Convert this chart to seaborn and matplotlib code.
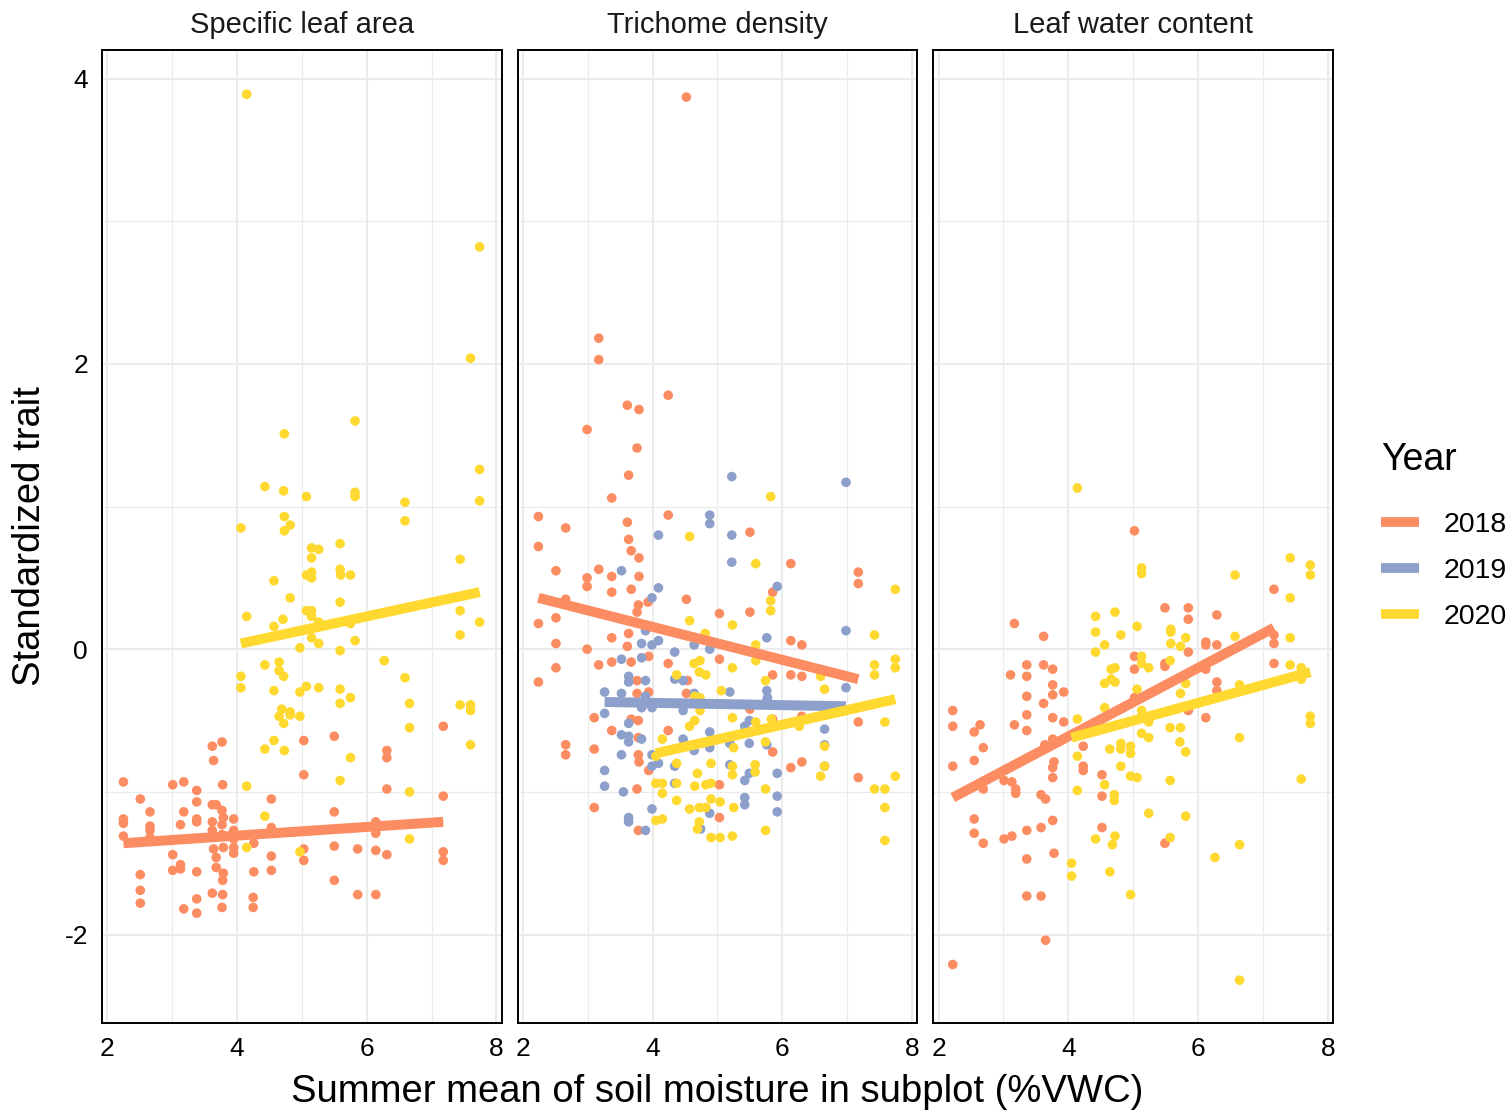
import pandas as pd
import numpy as np
import matplotlib
matplotlib.use("Agg")
import matplotlib.pyplot as plt
from matplotlib.lines import Line2D
import seaborn as sns

# values (soil moisture %VWC, standardized trait)
sla_2018_x = [7.18,5.50,5.03,3.62,3.77,3.64,6.31,6.31,5.03,2.25,3.01,3.18,3.78,3.38,6.31,7.18,2.51,4.53,3.38,3.62,
              3.68,2.66,3.18,3.77,3.79,5.50,2.25,2.25,2.66,2.66,3.38,3.38,3.13,3.62,3.95,3.77,4.53,6.14,6.14,2.25,
              2.66,3.62,3.77,3.95,3.95,3.79,3.95,3.95,4.26,3.64,5.50,5.86,5.03,5.03,6.14,6.31,7.18,7.18,3.01,4.53,
              3.68,3.68,3.13,3.13,3.01,3.38,2.51,3.79,3.78,4.26,4.53,5.50,2.51,2.51,3.62,3.78,3.38,4.25,4.25,3.18,
              3.38,3.77,5.86,6.14]
sla_2018_y = [-0.54,-0.61,-0.64,-0.68,-0.65,-0.78,-0.71,-0.76,-0.88,-0.93,-0.95,-0.93,-0.95,-0.99,-0.98,-1.03,-1.05,-1.05,-1.07,-1.09,
              -1.09,-1.14,-1.14,-1.13,-1.18,-1.14,-1.19,-1.22,-1.24,-1.27,-1.19,-1.21,-1.23,-1.21,-1.19,-1.23,-1.25,-1.21,-1.29,-1.31,
              -1.32,-1.27,-1.30,-1.27,-1.33,-1.39,-1.39,-1.43,-1.36,-1.40,-1.38,-1.40,-1.40,-1.48,-1.41,-1.44,-1.42,-1.48,-1.44,-1.45,
              -1.46,-1.53,-1.51,-1.54,-1.55,-1.56,-1.58,-1.57,-1.62,-1.56,-1.55,-1.62,-1.69,-1.78,-1.71,-1.72,-1.75,-1.74,-1.81,-1.82,
              -1.85,-1.81,-1.72,-1.72]

sla_2020_x = [4.15,7.74,7.60,
              5.82,4.73,7.74,4.43,4.72,5.07,5.82,5.82,6.59,7.74,4.06,4.73,4.82,4.73,6.59,5.15,5.26,5.59,5.15,7.44,
              5.59,5.15,5.07,5.15,5.60,5.75,4.57,4.82,5.59,7.44,5.07,5.15,5.15,4.15,4.71,5.26,4.57,5.75,7.74,7.44,
              5.82,5.15,5.26,4.97,5.59,6.27,4.43,4.65,4.65,4.72,4.06,6.59,4.06,4.57,4.97,5.07,5.26,5.59,5.75,
              4.69,4.82,4.65,4.82,4.72,4.97,5.59,6.66,7.44,7.60,7.60,6.66,7.60,4.43,4.57,4.73,5.75,5.59,4.15,6.66,
              4.43,4.15,4.97,6.66]
sla_2020_y = [3.89,2.82,2.04,
              1.60,1.51,1.26,1.14,1.11,1.07,1.10,1.07,1.03,1.04,0.85,0.93,0.87,0.83,0.90,0.71,0.70,0.74,0.64,0.63,
              0.56,0.54,0.52,0.50,0.52,0.52,0.48,0.36,0.33,0.27,0.27,0.27,0.23,0.23,0.21,0.19,0.16,0.18,0.19,0.10,
              0.06,0.08,0.04,0.01,-0.01,-0.08,-0.11,-0.09,-0.15,-0.19,-0.19,-0.20,-0.27,-0.29,-0.30,-0.26,-0.27,-0.28,-0.34,
              -0.42,-0.44,-0.47,-0.46,-0.52,-0.47,-0.38,-0.38,-0.39,-0.39,-0.43,-0.55,-0.67,-0.70,-0.64,-0.71,-0.76,-0.92,-0.96,-1.00,
              -1.17,-1.39,-1.42,-1.33]

tri_2018_x = [4.52,
              3.17,3.17,4.24,3.61,3.79,2.99,3.76,3.63,3.37,2.24,4.24,3.61,2.66,3.63,2.24,3.67,3.79,5.50,6.13,2.51,
              3.17,2.99,3.37,3.79,2.99,3.67,3.37,7.17,7.17,5.85,2.66,4.52,3.93,3.78,3.76,5.03,5.50,2.51,
              2.24,3.37,3.63,3.61,2.51,2.99,6.13,6.30,2.51,2.24,3.17,3.37,3.67,3.94,4.24,5.03,5.85,6.13,6.30,3.76,
              4.54,3.94,3.76,4.52,5.50,3.10,3.67,3.78,3.37,4.24,3.78,5.85,6.30,7.17,2.66,2.66,3.10,3.78,3.79,3.94,
              5.85,6.13,6.30,7.17,3.76,5.03,3.10,5.03,3.78]
tri_2018_y = [3.87,
              2.18,2.03,1.78,1.71,1.68,1.54,1.41,1.22,1.06,0.93,0.94,0.89,0.85,0.77,0.72,0.69,0.64,0.82,0.60,0.55,
              0.56,0.50,0.51,0.51,0.44,0.42,0.40,0.54,0.46,0.40,0.35,0.35,0.33,0.31,0.26,0.25,0.26,0.22,
              0.18,0.08,0.11,0.02,0.04,0.00,0.06,0.03,-0.13,-0.23,-0.11,-0.09,-0.09,-0.05,-0.10,-0.07,-0.18,-0.18,-0.19,-0.22,
              -0.22,-0.30,-0.31,-0.31,-0.42,-0.48,-0.49,-0.50,-0.57,-0.57,-0.62,-0.49,-0.47,-0.51,-0.67,-0.74,-0.70,-0.74,-0.79,-0.85,
              -0.72,-0.83,-0.79,-0.90,-0.98,-0.95,-1.11,-1.18,-1.27]

tri_2019_x = [5.22,6.98,4.88,4.88,4.09,5.22,5.22,3.52,5.92,4.09,3.99,
              6.98,5.76,3.83,3.99,4.09,4.34,4.88,3.52,3.83,3.63,3.63,3.89,4.34,4.47,3.26,3.52,3.89,4.64,5.19,5.76,
              5.76,6.98,3.83,3.99,4.47,3.26,3.63,3.52,3.63,3.63,3.83,4.47,4.88,5.42,5.49,5.49,5.19,5.76,4.64,4.88,
              6.65,6.65,6.65,3.52,3.99,3.99,4.09,4.34,5.19,3.26,5.49,5.42,5.92,3.26,3.55,4.34,5.42,5.42,5.92,5.92,
              3.99,4.88,3.63,3.63,3.89,4.74,5.77,3.89,4.64]
tri_2019_y = [1.21,1.17,0.94,0.88,0.80,0.80,0.61,0.55,0.44,0.43,0.36,
              0.13,0.08,0.04,0.03,0.06,-0.02,0.00,-0.07,-0.06,-0.19,-0.23,-0.22,-0.21,-0.22,-0.30,-0.31,-0.33,-0.31,-0.30,-0.29,
              -0.36,-0.27,-0.41,-0.41,-0.43,-0.45,-0.52,-0.60,-0.61,-0.65,-0.63,-0.63,-0.58,-0.54,-0.50,-0.66,-0.66,-0.67,-0.71,-0.69,
              -0.56,-0.67,-0.82,-0.74,-0.74,-0.82,-0.80,-0.82,-0.81,-0.85,-0.87,-0.92,-0.87,-0.96,-1.00,-0.94,-1.04,-1.09,-1.03,-1.14,
              -1.12,-1.15,-1.18,-1.21,-1.27,-1.26,-0.34,0.13,0.03]

tri_2020_x = [5.82,4.57,5.59,7.74,5.82,5.82,4.57,
              5.23,4.81,5.59,5.59,7.42,4.64,4.73,5.23,7.42,7.74,7.74,7.42,4.37,4.72,4.82,5.74,6.59,6.65,5.06,4.65,
              4.73,4.73,5.23,5.83,4.65,4.57,5.59,6.26,7.58,4.15,5.74,5.25,6.65,4.05,4.37,4.90,5.58,5.58,5.23,5.23,
              4.69,6.65,6.59,7.74,4.05,4.15,4.37,4.65,4.82,4.90,4.15,5.74,7.42,7.58,4.37,4.57,4.72,4.82,4.90,5.04,
              5.25,7.58,4.05,4.15,4.72,4.69,4.90,5.04,5.23,5.74,7.58]
tri_2020_y = [1.07,0.79,0.60,0.42,0.34,0.27,0.20,
              0.17,0.11,0.03,-0.08,0.10,-0.10,-0.08,-0.13,-0.11,-0.07,-0.13,-0.18,-0.18,-0.16,-0.18,-0.22,-0.19,-0.28,-0.29,-0.33,
              -0.34,-0.43,-0.48,-0.49,-0.50,-0.54,-0.51,-0.54,-0.51,-0.63,-0.65,-0.69,-0.68,-0.75,-0.80,-0.80,-0.81,-0.86,-0.82,-0.88,
              -0.87,-0.82,-0.89,-0.89,-0.94,-0.94,-0.94,-0.96,-0.95,-0.94,-1.01,-0.98,-0.98,-0.98,-1.06,-1.12,-1.11,-1.11,-1.05,-1.07,
              -1.11,-1.11,-1.20,-1.19,-1.21,-1.26,-1.32,-1.32,-1.31,-1.27,-1.34]

lwc_2018_x = [5.02,3.17,3.62,5.49,5.85,5.85,6.29,7.17,7.17,7.17,7.17,6.12,6.12,6.29,5.85,5.02,5.02,5.49,5.49,6.12,
              6.29,6.29,5.85,6.12,3.36,3.36,3.62,3.76,3.11,3.76,3.76,3.93,3.36,3.62,3.36,3.76,3.93,5.02,2.22,2.22,
              2.64,3.17,
              3.36,2.55,2.69,2.22,2.55,3.76,3.64,4.23,3.78,3.76,4.23,4.23,3.76,4.52,3.01,3.13,3.19,3.19,2.69,4.52,
              3.58,3.65,2.55,2.55,2.69,3.01,3.13,3.36,3.58,3.76,4.52,5.49,3.36,3.78,3.36,3.58,3.65,2.22]
lwc_2018_y = [0.83,0.18,0.09,0.29,0.29,0.21,0.24,0.42,0.10,0.04,-0.10,0.05,0.03,0.03,-0.02,-0.05,-0.14,-0.10,-0.12,-0.14,
              -0.23,-0.29,-0.43,-0.48,-0.11,-0.19,-0.11,-0.14,-0.18,-0.25,-0.32,-0.30,-0.33,-0.38,-0.46,-0.48,-0.51,-0.34,-0.43,-0.54,
              -0.53,-0.53,
              -0.57,-0.58,-0.69,-0.82,-0.78,-0.63,-0.67,-0.68,-0.79,-0.83,-0.82,-0.85,-0.90,-0.88,-0.92,-0.93,-0.98,-1.01,-0.98,-1.03,
              -1.02,-1.05,-1.19,-1.29,-1.36,-1.33,-1.31,-1.27,-1.25,-1.20,-1.25,-1.36,-1.47,-1.43,-1.73,-1.73,-2.04,-2.21]

lwc_2020_x = [4.14,5.13,5.13,7.42,7.73,7.73,6.57,7.42,4.42,4.72,5.06,4.42,4.81,4.56,5.58,5.58,5.58,5.73,5.81,6.57,
              7.42,4.42,5.13,5.13,5.24,5.57,7.42,7.59,7.59,4.66,4.72,4.66,4.56,4.72,5.81,5.06,5.73,6.64,4.56,5.13,
              5.24,4.14,7.73,7.73,5.57,5.73,
              6.64,5.13,5.24,4.81,4.96,4.81,4.64,4.96,5.72,5.81,4.14,4.81,4.96,5.06,5.57,7.59,4.56,4.14,4.71,4.71,
              5.24,5.81,4.42,4.72,4.68,5.57,6.64,6.26,4.05,4.05,4.64,4.96,6.64]
lwc_2020_y = [1.13,0.57,0.53,0.64,0.59,0.52,0.52,0.36,0.23,0.26,0.16,0.12,0.10,0.03,0.14,0.12,0.04,0.02,0.08,0.09,
              0.08,-0.02,-0.05,-0.10,-0.13,-0.08,-0.11,-0.13,-0.21,-0.14,-0.13,-0.21,-0.24,-0.23,-0.24,-0.28,-0.31,-0.25,-0.41,-0.43,
              -0.51,-0.49,-0.47,-0.52,-0.55,-0.55,
              -0.62,-0.59,-0.62,-0.66,-0.68,-0.70,-0.70,-0.73,-0.65,-0.72,-0.75,-0.82,-0.89,-0.90,-0.92,-0.91,-0.95,-0.99,-1.02,-1.06,
              -1.15,-1.17,-1.33,-1.31,-1.37,-1.32,-1.37,-1.46,-1.50,-1.59,-1.56,-1.72,-2.32]

# model fit lines as drawn in the reference: value at the lowest and highest moisture of each group
fit_trait = ["Specific leaf area", "Specific leaf area", "Trichome density", "Trichome density",
             "Trichome density", "Leaf water content", "Leaf water content"]
fit_year = ["2018", "2020", "2018", "2019", "2020", "2018", "2020"]
fit_lo = [-1.36, 0.04, 0.36, -0.37, -0.73, -1.04, -0.62]
fit_hi = [-1.21, 0.40, -0.21, -0.40, -0.35, 0.15, -0.16]

traits = ["Specific leaf area", "Trichome density", "Leaf water content"]
years = ["2018", "2019", "2020"]
colors = {"2018": "#FC8D62", "2019": "#8DA0CB", "2020": "#FFD92F"}

series = [
    ("Specific leaf area", "2018", sla_2018_x, sla_2018_y),
    ("Specific leaf area", "2020", sla_2020_x, sla_2020_y),
    ("Trichome density", "2018", tri_2018_x, tri_2018_y),
    ("Trichome density", "2019", tri_2019_x, tri_2019_y),
    ("Trichome density", "2020", tri_2020_x, tri_2020_y),
    ("Leaf water content", "2018", lwc_2018_x, lwc_2018_y),
    ("Leaf water content", "2020", lwc_2020_x, lwc_2020_y),
]

frames = []
for trait, year, xs, ys in series:
    frames.append(pd.DataFrame({"trait": trait, "Year": year, "moisture": xs, "value": ys}))
df = pd.concat(frames, ignore_index=True)

# fit lines span each group's own moisture range
fit_rows = []
for trait, year, lo, hi in zip(fit_trait, fit_year, fit_lo, fit_hi):
    grp = df[(df.trait == trait) & (df.Year == year)]
    fit_rows.append({"trait": trait, "Year": year, "moisture": grp.moisture.min(), "value": lo})
    fit_rows.append({"trait": trait, "Year": year, "moisture": grp.moisture.max(), "value": hi})
fits = pd.DataFrame(fit_rows)

sns.set_style("white")
plt.rcParams["font.family"] = ["Liberation Sans", "DejaVu Sans"]
plt.rcParams["axes.unicode_minus"] = False
plt.rcParams["text.color"] = "black"

fig, axes = plt.subplots(1, 3, figsize=(15.12, 11.13), dpi=100, sharey=True)
fig.subplots_adjust(left=102/1512, right=1333/1512, top=1-50/1113, bottom=1-1023/1113, wspace=0.04)

for ax, trait in zip(axes, traits):
    sub = df[df.trait == trait]
    sns.scatterplot(data=sub, x="moisture", y="value", hue="Year", palette=colors,
                    s=48, linewidth=0, legend=False, ax=ax, zorder=3)
    for year in years:
        line = fits[(fits.trait == trait) & (fits.Year == year)]
        if len(line) == 0:
            continue
        sns.lineplot(data=line, x="moisture", y="value", color=colors[year], lw=7.2,
                     solid_capstyle="butt", legend=False, ax=ax, zorder=4)

    ax.set_xlim(1.92, 8.08)
    ax.set_ylim(-2.62, 4.20)
    ax.set_xticks([2, 4, 6, 8])
    ax.set_xticks([3, 5, 7], minor=True)
    ax.set_yticks([-2, 0, 2, 4])
    ax.set_yticks([-1, 1, 3], minor=True)
    ax.grid(which="major", color="#EBEBEB", lw=1.5)
    ax.grid(which="minor", color="#EBEBEB", lw=0.8)
    ax.set_axisbelow(True)
    ax.tick_params(which="both", length=0, labelsize=19, colors="black", pad=10)
    ax.set_xlabel("")
    ax.set_ylabel("")
    ax.set_title(trait, fontsize=21, pad=12.5, color="#1a1a1a")
    for sp in ax.spines.values():
        sp.set_visible(True)
        sp.set_color("black")
        sp.set_linewidth(1.4)

fig.text(717.5/1512, 1-1092/1113, "Summer mean of soil moisture in subplot (%VWC)",
         ha="center", va="center", fontsize=27.5)
fig.text(30/1512, 1-536/1113, "Standardized trait", ha="center", va="center",
         rotation=90, fontsize=27.5)

handles = [Line2D([0], [0], color=colors[y], lw=7, solid_capstyle="butt") for y in years]
leg = fig.legend(handles, years, title="Year", loc="center left",
                 bbox_to_anchor=(1370/1512, 1-536/1113), frameon=False,
                 fontsize=20.5, title_fontsize=27, handlelength=1.33, handletextpad=0.85,
                 labelspacing=0.7, borderaxespad=0)
leg._legend_box.align = "left"
leg._legend_box.sep = 24

plt.savefig("out.png", dpi=100)
